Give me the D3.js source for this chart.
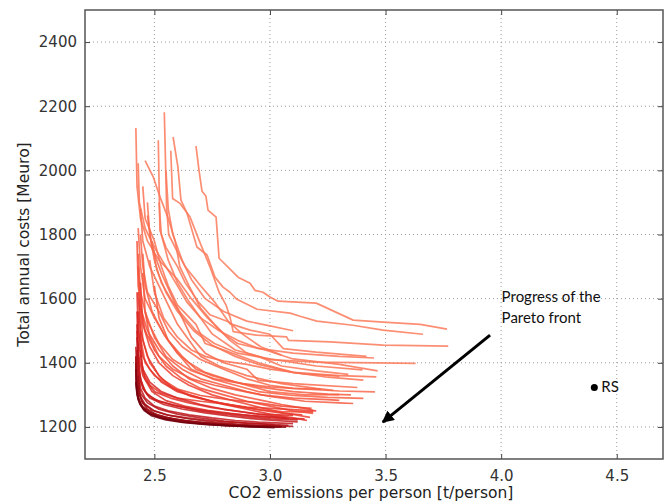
<!DOCTYPE html>
<html>
<head>
<meta charset="utf-8">
<script src="https://cdn.jsdelivr.net/npm/d3@7"></script>
<style>
  body { margin: 0; background: #fff; }
  svg { display: block; }
</style>
</head>
<body>
<svg id="chart" width="670" height="502"></svg>
<script>
// Pareto fronts per generation, early (light) to late (dark); [co2, cost]
const fronts = [
  [[2.68,2076],[2.693,2001],[2.706,1935],[2.723,1920],[2.732,1876],[2.767,1854],[2.78,1726],[2.862,1667],[2.914,1648],[2.935,1626],[2.97,1620],[3.0,1605],[3.035,1592],[3.2,1586],[3.36,1533],[3.49,1527],[3.65,1520],[3.766,1505]],
  [[2.581,2104],[2.602,2010],[2.615,1907],[2.641,1867],[2.684,1761],[2.728,1736],[2.762,1667],[2.797,1636],[2.827,1620],[2.857,1598],[2.927,1573],[2.944,1567],[3.087,1555],[3.13,1545],[3.203,1530],[3.359,1517],[3.489,1502],[3.662,1489]],
  [[2.571,2061],[2.579,1912],[2.611,1897],[2.654,1855],[2.7,1770],[2.74,1700],[2.78,1620],[2.81,1580],[2.827,1543],[2.841,1497],[2.943,1486],[3.072,1481],[3.08,1470],[3.26,1465],[3.49,1455],[3.771,1452]],
  [[2.543,2181],[2.553,1886],[2.562,1800],[2.6,1745],[2.633,1700],[2.7,1640],[2.76,1590],[2.827,1522],[2.914,1502],[3.0,1489],[3.058,1444],[3.2,1433],[3.418,1420]],
  [[2.55,2000],[2.56,1880],[2.58,1800],[2.62,1720],[2.66,1660],[2.72,1600],[2.8,1560],[2.9,1530],[3.0,1515],[3.1,1500]],
  [[2.517,2094],[2.524,1813],[2.55,1760],[2.6,1700],[2.633,1650],[2.69,1590],[2.74,1550],[2.82,1528],[2.88,1490],[2.96,1450],[3.05,1424]],
  [[2.46,2030],[2.495,1980],[2.524,1918],[2.56,1850],[2.59,1780],[2.61,1700],[2.65,1640],[2.7,1570],[2.76,1520],[2.827,1470],[2.9,1430],[3.0,1410],[3.2,1402],[3.63,1398]],
  [[2.52,1900],[2.53,1800],[2.56,1720],[2.6,1650],[2.65,1590],[2.7,1540],[2.78,1500],[2.86,1470],[2.95,1445],[3.1,1430],[3.3,1420],[3.45,1415]],
  [[2.42,2132],[2.425,1950],[2.44,1850],[2.47,1780],[2.52,1720],[2.6,1660],[2.66,1600],[2.73,1540],[2.8,1490],[2.86,1460],[2.98,1440],[3.1,1412],[3.3,1395],[3.466,1375]],
  [[2.43,2022],[2.435,1900],[2.46,1820],[2.5,1760],[2.55,1700],[2.6,1640],[2.64,1590],[2.7,1540],[2.75,1490],[2.85,1440],[2.95,1420],[3.05,1390],[3.2,1375],[3.339,1364]],
  [[2.47,1900],[2.48,1800],[2.5,1720],[2.53,1650],[2.57,1600],[2.62,1550],[2.68,1500],[2.76,1460],[2.86,1430],[3.0,1412],[3.2,1390],[3.4,1378]],
  [[2.45,1950],[2.46,1850],[2.5,1780],[2.53,1700],[2.56,1640],[2.6,1580],[2.68,1520],[2.72,1460],[2.8,1440],[2.95,1400],[3.1,1370],[3.25,1355],[3.404,1346]],
  [[2.49,1780],[2.51,1690],[2.55,1620],[2.6,1560],[2.67,1500],[2.75,1455],[2.85,1420],[2.95,1395],[3.1,1370],[3.3,1360],[3.46,1356]],
  [[2.48,1720],[2.5,1620],[2.54,1540],[2.6,1480],[2.66,1440],[2.72,1420],[2.8,1405],[2.9,1395],[3.0,1380],[3.15,1365],[3.3,1358]],
  [[2.44,1880],[2.45,1780],[2.48,1700],[2.52,1640],[2.56,1580],[2.6,1520],[2.65,1470],[2.7,1420],[2.78,1390],[2.9,1360],[3.05,1335],[3.2,1320],[3.274,1314]],
  [[2.47,1860],[2.49,1760],[2.53,1680],[2.58,1600],[2.62,1540],[2.66,1480],[2.72,1430],[2.8,1400],[2.9,1380],[2.95,1345],[3.1,1335],[3.378,1323]],
  [[2.44,1800],[2.45,1700],[2.47,1620],[2.52,1560],[2.56,1500],[2.62,1450],[2.7,1410],[2.8,1380],[2.9,1350],[3.0,1330],[3.1,1320],[3.3,1312],[3.454,1309]],
  [[2.43,1820],[2.44,1700],[2.46,1600],[2.5,1540],[2.55,1480],[2.6,1430],[2.65,1400],[2.72,1370],[2.85,1340],[3.0,1310],[3.15,1300],[3.3,1301]],
  [[2.43,1740],[2.44,1620],[2.47,1530],[2.52,1460],[2.58,1410],[2.66,1375],[2.76,1350],[2.88,1335],[3.0,1325],[3.1,1320],[3.22,1318]],
  [[2.45,1740],[2.46,1640],[2.49,1560],[2.54,1490],[2.6,1430],[2.66,1380],[2.75,1350],[2.85,1330],[2.95,1310],[3.1,1298],[3.25,1292],[3.404,1289]],
  [[2.5,1640],[2.52,1540],[2.56,1470],[2.62,1420],[2.68,1380],[2.75,1360],[2.85,1340],[2.95,1325],[3.1,1310],[3.25,1302],[3.35,1300]],
  [[2.45,1680],[2.46,1560],[2.5,1480],[2.55,1420],[2.62,1380],[2.7,1350],[2.8,1330],[2.9,1310],[3.0,1295],[3.15,1280],[3.3,1275],[3.36,1273]],
  [[2.46,1560],[2.48,1480],[2.52,1420],[2.58,1380],[2.66,1350],[2.76,1330],[2.86,1315],[2.96,1300],[3.1,1290],[3.25,1285],[3.3,1283]],
  [[2.425,1780],[2.43,1640],[2.445,1560],[2.47,1500],[2.52,1440],[2.58,1390],[2.65,1350],[2.75,1320],[2.85,1300],[2.95,1285],[3.05,1270],[3.15,1258],[3.187,1252]],
  [[2.43,1700],[2.44,1580],[2.46,1500],[2.5,1440],[2.55,1390],[2.62,1350],[2.7,1320],[2.8,1300],[2.9,1280],[3.0,1265],[3.1,1250],[3.187,1242]],
  [[2.435,1600],[2.44,1480],[2.46,1400],[2.5,1360],[2.56,1330],[2.65,1300],[2.75,1280],[2.85,1265],[2.95,1255],[3.05,1248],[3.187,1247]],
  [[2.44,1580],[2.45,1470],[2.48,1400],[2.53,1350],[2.6,1318],[2.7,1298],[2.82,1285],[2.95,1275],[3.05,1265],[3.18,1258]],
  [[2.44,1650],[2.45,1520],[2.48,1450],[2.52,1400],[2.58,1360],[2.65,1330],[2.75,1300],[2.85,1280],[2.95,1262],[3.05,1245],[3.173,1230]],
  [[2.44,1440],[2.45,1370],[2.48,1330],[2.53,1305],[2.6,1290],[2.7,1280],[2.8,1272],[2.9,1262],[3.0,1258],[3.1,1254],[3.2,1250]],
  [[2.43,1620],[2.44,1500],[2.47,1420],[2.52,1360],[2.58,1320],[2.66,1295],[2.76,1278],[2.86,1265],[2.96,1252],[3.06,1242],[3.14,1238]],
  [[2.425,1620],[2.43,1500],[2.45,1420],[2.48,1380],[2.53,1340],[2.6,1310],[2.7,1290],[2.8,1270],[2.9,1255],[3.0,1240],[3.1,1228],[3.16,1220]],
  [[2.44,1500],[2.445,1400],[2.46,1350],[2.5,1310],[2.57,1290],[2.65,1275],[2.75,1260],[2.85,1250],[2.95,1240],[3.1,1236]],
  [[2.425,1560],[2.43,1430],[2.45,1360],[2.49,1310],[2.55,1282],[2.63,1265],[2.73,1252],[2.83,1242],[2.93,1234],[3.03,1228],[3.15,1225]],
  [[2.43,1560],[2.435,1450],[2.45,1380],[2.48,1340],[2.53,1310],[2.6,1290],[2.7,1270],[2.8,1255],[2.9,1245],[3.0,1235],[3.08,1226]],
  [[2.425,1500],[2.43,1420],[2.44,1350],[2.46,1310],[2.5,1285],[2.58,1268],[2.68,1255],[2.78,1245],[2.88,1238],[2.98,1232],[3.07,1229]],
  [[2.425,1520],[2.43,1400],[2.44,1340],[2.47,1300],[2.52,1280],[2.6,1265],[2.7,1250],[2.8,1240],[2.9,1232],[3.0,1225],[3.12,1222]],
  [[2.43,1460],[2.435,1370],[2.45,1320],[2.48,1290],[2.54,1270],[2.62,1256],[2.72,1244],[2.82,1234],[2.92,1226],[3.02,1220],[3.12,1216]],
  [[2.425,1480],[2.43,1380],[2.44,1320],[2.46,1290],[2.5,1265],[2.56,1250],[2.65,1238],[2.75,1228],[2.85,1220],[2.95,1215],[3.05,1212],[3.1,1210]],
  [[2.42,1450],[2.425,1360],[2.43,1310],[2.45,1275],[2.49,1252],[2.55,1238],[2.64,1228],[2.74,1220],[2.84,1214],[2.94,1210],[3.02,1207]],
  [[2.425,1440],[2.43,1350],[2.44,1305],[2.47,1275],[2.52,1255],[2.6,1240],[2.7,1228],[2.8,1218],[2.9,1212],[3.0,1208],[3.08,1205]],
  [[2.42,1420],[2.422,1350],[2.428,1300],[2.44,1270],[2.47,1248],[2.52,1233],[2.6,1222],[2.7,1214],[2.8,1209],[2.9,1205],[3.0,1203],[3.1,1202]],
  [[2.42,1420],[2.425,1340],[2.435,1300],[2.46,1270],[2.5,1250],[2.57,1235],[2.66,1224],[2.76,1215],[2.86,1208],[2.96,1204],[3.05,1202]],
  [[2.43,1360],[2.435,1310],[2.445,1280],[2.47,1255],[2.51,1238],[2.58,1225],[2.67,1216],[2.77,1210],[2.88,1206],[2.98,1203],[3.04,1202]],
  [[2.42,1400],[2.422,1330],[2.43,1290],[2.45,1262],[2.49,1243],[2.55,1230],[2.63,1220],[2.72,1212],[2.82,1206],[2.92,1202],[3.0,1200],[3.05,1200]],
  [[2.425,1330],[2.43,1295],[2.44,1268],[2.47,1245],[2.52,1230],[2.6,1218],[2.7,1210],[2.8,1205],[2.9,1202],[3.0,1200],[3.07,1199]],
  [[2.42,1380],[2.423,1320],[2.43,1285],[2.45,1258],[2.48,1240],[2.54,1226],[2.62,1216],[2.72,1209],[2.82,1204],[2.92,1201],[3.0,1199]],
  [[2.42,1340],[2.425,1300],[2.435,1275],[2.455,1252],[2.49,1234],[2.55,1222],[2.63,1213],[2.73,1207],[2.83,1203],[2.93,1200],[3.02,1198]]
];

const xTicks = [2.5, 3.0, 3.5, 4.0, 4.5];
const yTicks = [1200, 1400, 1600, 1800, 2000, 2200, 2400];
const xDomain = [2.2, 4.7];
const yDomain = [1100, 2500];

// reference solution marker
const refPoint = { x: 4.403, y: 1323, label: 'RS' };

// annotation arrow + text
const arrowFrom = [3.952, 1486];
const arrowTo = [3.488, 1215];
const noteLines = ['Progress of the', 'Pareto front'];
const noteAt = [4.002, 1589];

const svg = d3.select('#chart');
const margin = { top: 10, right: 7, bottom: 43, left: 85 };
const W = 670, H = 502;
const iw = W - margin.left - margin.right;
const ih = H - margin.top - margin.bottom;

const x = d3.scaleLinear().domain(xDomain).range([0, iw]);
const y = d3.scaleLinear().domain(yDomain).range([ih, 0]);

const g = svg.append('g').attr('transform', `translate(${margin.left},${margin.top})`);

svg.append('defs').append('clipPath').attr('id', 'clip')
  .append('rect').attr('width', iw).attr('height', ih);

// grid
const grid = g.append('g').attr('stroke', '#9a9a9a').attr('stroke-width', 1).attr('stroke-dasharray', '1,3');
grid.selectAll('.gx').data(xTicks).join('line')
  .attr('x1', d => x(d)).attr('x2', d => x(d)).attr('y1', 0).attr('y2', ih);
grid.selectAll('.gy').data(yTicks).join('line')
  .attr('y1', d => y(d)).attr('y2', d => y(d)).attr('x1', 0).attr('x2', iw);

// fronts - most generations stay light, the last ones darken fast
const n = fronts.length;
const color = i => d3.interpolateReds(0.45 + 0.53 * Math.pow(i / (n - 1), 2.2));
const line = d3.line().x(d => x(d[0])).y(d => y(d[1]));

g.append('g').attr('clip-path', 'url(#clip)')
  .selectAll('path')
  .data(fronts)
  .join('path')
  .attr('d', line)
  .attr('fill', 'none')
  .attr('stroke', (d, i) => color(i))
  .attr('stroke-width', 1.7)
  .attr('stroke-opacity', 0.85)
  .attr('stroke-linejoin', 'round');

// axes (ticks inward, all four sides)
const tickFont = '"DejaVu Sans", sans-serif';
function styleAxis(sel) {
  sel.select('.domain').remove();
  sel.selectAll('.tick line').attr('stroke', '#444').attr('stroke-width', 1);
  sel.selectAll('.tick text').attr('font-family', tickFont).attr('font-size', 15).attr('fill', '#333');
}
g.append('g').attr('transform', `translate(0,${ih})`)
  .call(d3.axisBottom(x).tickValues(xTicks).tickFormat(d3.format('.1f')).tickSizeInner(-5).tickPadding(11))
  .call(styleAxis);
g.append('g')
  .call(d3.axisLeft(y).tickValues(yTicks).tickFormat(d3.format('d')).tickSizeInner(-5).tickPadding(8))
  .call(styleAxis);
g.append('g')
  .call(d3.axisTop(x).tickValues(xTicks).tickFormat('').tickSizeInner(-5))
  .call(styleAxis);
g.append('g').attr('transform', `translate(${iw},0)`)
  .call(d3.axisRight(y).tickValues(yTicks).tickFormat('').tickSizeInner(-5))
  .call(styleAxis);

// frame
g.append('rect').attr('width', iw).attr('height', ih)
  .attr('fill', 'none').attr('stroke', '#555').attr('stroke-width', 1.5);

// axis labels
svg.append('text')
  .attr('x', margin.left + iw * 0.5 - 3).attr('y', 498)
  .attr('text-anchor', 'middle')
  .attr('font-family', tickFont).attr('font-size', 15.5).attr('fill', '#222')
  .text('CO2 emissions per person [t/person]');
svg.append('text')
  .attr('transform', `translate(29,${margin.top + ih / 2 + 10}) rotate(-90)`)
  .attr('text-anchor', 'middle')
  .attr('font-family', tickFont).attr('font-size', 15.5).attr('fill', '#222')
  .text('Total annual costs [Meuro]');

// RS point
g.append('circle')
  .attr('cx', x(refPoint.x)).attr('cy', y(refPoint.y)).attr('r', 3.5).attr('fill', '#000');
g.append('text')
  .attr('x', x(refPoint.x) + 7).attr('y', y(refPoint.y) + 5)
  .attr('font-family', 'Lato, sans-serif').attr('font-size', 15).attr('fill', '#111')
  .text(refPoint.label);

// arrow
svg.select('defs').append('marker')
  .attr('id', 'head').attr('viewBox', '0 0 10 10').attr('refX', 9).attr('refY', 5)
  .attr('markerWidth', 4).attr('markerHeight', 4).attr('orient', 'auto')
  .append('path').attr('d', 'M0,0 L10,5 L0,10 z').attr('fill', '#000');
g.append('line')
  .attr('x1', x(arrowFrom[0])).attr('y1', y(arrowFrom[1]))
  .attr('x2', x(arrowTo[0])).attr('y2', y(arrowTo[1]))
  .attr('stroke', '#000').attr('stroke-width', 3)
  .attr('marker-end', 'url(#head)');

g.append('g').selectAll('text')
  .data(noteLines)
  .join('text')
  .attr('x', x(noteAt[0]))
  .attr('y', (d, i) => y(noteAt[1]) + i * 21)
  .attr('font-family', 'Lato, sans-serif').attr('font-size', 15).attr('fill', '#111')
  .text(d => d);
</script>
</body>
</html>
